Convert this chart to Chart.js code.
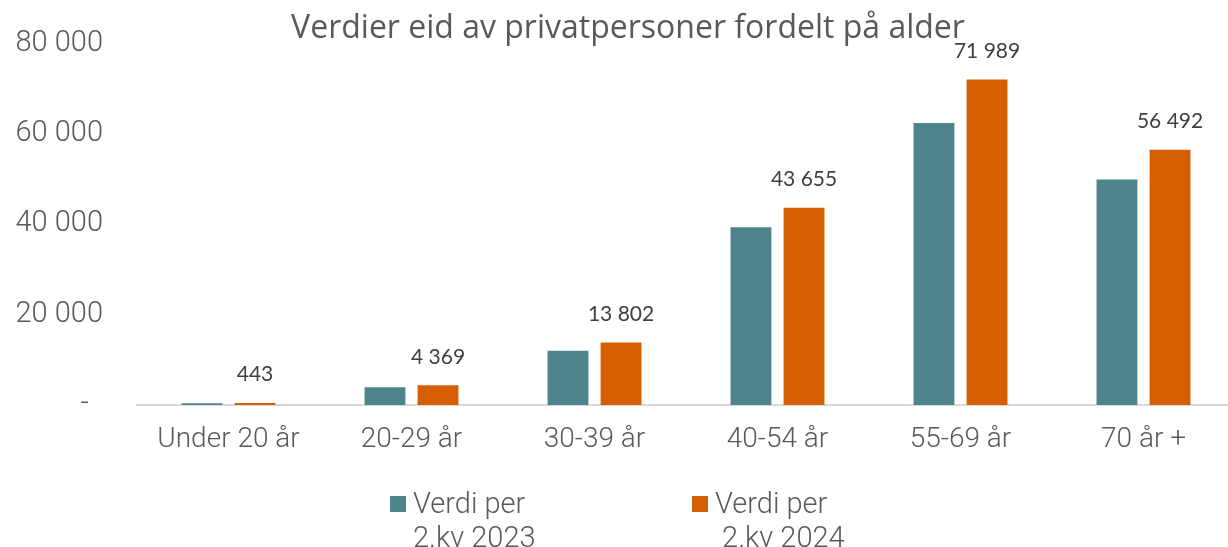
<!DOCTYPE html>
<html>
<head>
<meta charset="utf-8">
<script src="https://cdn.jsdelivr.net/npm/chart.js@4"></script>
<style>
  html, body { margin: 0; padding: 0; background: #fff; overflow: hidden; }
  #wrap { position: relative; width: 1228px; height: 547px; overflow: hidden; }
  #title { position: absolute; left: 0; width: 1256px; top: 4px; text-align: center;
           font-family: "Open Sans", sans-serif; font-size: 32px; color: #595959; white-space: nowrap; }
  .leg { position: absolute; top: 486px; font-family: Roboto, sans-serif; font-weight: 300;
         font-size: 29px; line-height: 34px; color: #595959; white-space: nowrap; }
  .leg span.box { position: absolute; left: 0; top: 10px; width: 16px; height: 16px; }
  .leg div { padding-left: 23px; }
</style>
</head>
<body>
<div id="wrap">
  <canvas id="chart" width="1235" height="547"></canvas>
  <div id="title">Verdier eid av privatpersoner fordelt på alder</div>
  <div class="leg" style="left:390px"><span class="box" style="background:#4F848D"></span><div>Verdi per<br>2.kv 2023</div></div>
  <div class="leg" style="left:692px"><span class="box" style="background:#D55E00"></span><div>Verdi per<br>&nbsp;2.kv 2024</div></div>
</div>
<script>
var categories = ['Under 20 år', '20-29 år', '30-39 år', '40-54 år', '55-69 år', '70 år +'];
var values2023 = [400, 3950, 12000, 39300, 62400, 49900];
var values2024 = [443, 4369, 13802, 43655, 71989, 56492];
var seriesNames = ['Verdi per 2.kv 2023', 'Verdi per 2.kv 2024'];

function fmt(v) {
    if (v === 0) return '-  ';
    return String(Math.round(v)).replace(/\B(?=(\d{3})+(?!\d))/g, ' ');
}

// value labels above the 2024 bars
var valueLabels = {
    id: 'valueLabels',
    afterDatasetsDraw: function (chart) {
        var ctx = chart.ctx;
        var meta = chart.getDatasetMeta(1);
        ctx.save();
        ctx.font = '21px Lato, sans-serif';
        ctx.fillStyle = '#404040';
        ctx.textAlign = 'center';
        ctx.textBaseline = 'bottom';
        meta.data.forEach(function (bar, i) {
            ctx.fillText(fmt(values2024[i]), bar.x, bar.y - 18);
        });
        ctx.restore();
    }
};

var axisFont = { family: 'Roboto', size: 29, weight: 300 };

var ctx = document.getElementById('chart').getContext('2d');
var chart = new Chart(ctx, {
    type: 'bar',
    data: {
        labels: categories,
        datasets: [
            { label: seriesNames[0], data: values2023, backgroundColor: '#4F848D' },
            { label: seriesNames[1], data: values2024, backgroundColor: '#D55E00' }
        ]
    },
    options: {
        responsive: false,
        animation: false,
        categoryPercentage: 0.58,
        barPercentage: 0.77,
        layout: { padding: { left: 13, right: 0, top: 24, bottom: 0 } },
        plugins: {
            legend: { display: false },
            title: { display: false },
            tooltip: { enabled: false }
        },
        scales: {
            x: {
                grid: { display: false },
                border: { color: '#d9d9d9', width: 2 },
                ticks: { color: '#595959', padding: 10, font: { family: 'Roboto', size: 28, weight: 300 } },
                afterFit: function (scale) { scale.height = 142; }
            },
            y: {
                min: 0,
                max: 80000,
                grid: { display: false },
                border: { display: false },
                ticks: {
                    stepSize: 20000,
                    padding: 26,
                    color: '#595959',
                    font: axisFont,
                    callback: function (v) { return fmt(v); }
                },
                afterFit: function (scale) { scale.width = 124; }
            }
        }
    },
    plugins: [valueLabels]
});

Promise.all([
    document.fonts.load('300 28px Roboto'),
    document.fonts.load('21px Lato')
]).then(function () { chart.update(); });
</script>
</body>
</html>
